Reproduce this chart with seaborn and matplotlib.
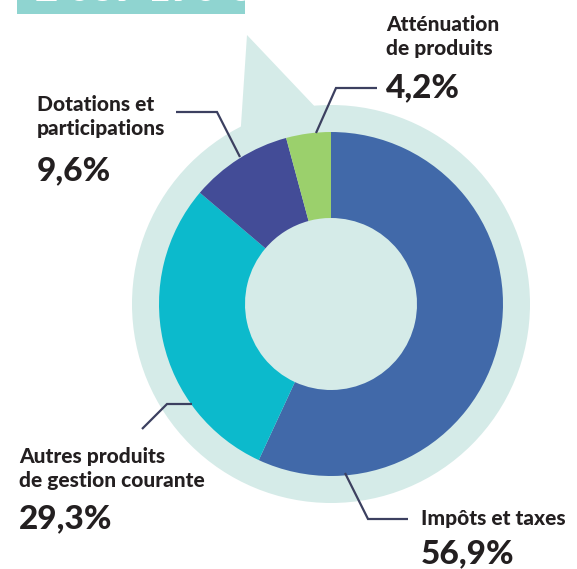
import matplotlib
matplotlib.use("Agg")
import matplotlib.pyplot as plt
import seaborn as sns
from matplotlib.patches import Circle, Polygon, Rectangle

sns.set_style("white")
plt.rcParams['font.family'] = ['Lato', 'DejaVu Sans']

# data, clockwise from the top
categories = ["Impôts et taxes", "Autres produits\nde gestion courante",
              "Dotations et\nparticipations", "Atténuation\nde produits"]
shares = [56.9, 29.3, 9.6, 4.2]
pct_labels = ["56,9%", "29,3%", "9,6%", "4,2%"]
total_label = "2 039 190 €"

colors = sns.color_palette(["#4169a9", "#0cbacc", "#434c97", "#9bd06c"])
light = "#d5ebe8"
ink = "#231f20"
line_col = "#3c4060"

W, H = 577, 569
fig = plt.figure(figsize=(W / 100, H / 100), dpi=100)
ax = fig.add_axes([0, 0, 1, 1])

def py(y):
    # pixel row -> data y
    return H - y

cx, cy = 331, py(304)

# header box, cut by the top edge (as in the source layout)
ax.add_patch(Rectangle((17, py(14)), 228, 30, color="#8fd4d0", lw=0, clip_on=True))
ax.text(35, py(1), total_label, color="white", fontsize=29, fontweight="black",
        ha="left", va="baseline", clip_on=True)

# light background disc + speech-bubble pointer
ax.add_patch(Polygon([(247, py(35)), (240, py(140)), (320, py(112))],
                     closed=True, color=light, lw=0))
ax.add_patch(Circle((cx, cy), 199, color=light, lw=0))

ax.pie(shares, colors=colors, startangle=90, counterclock=False,
       radius=172, center=(cx, cy),
       wedgeprops=dict(width=86, edgecolor="none"))

# leader lines (pixel coords)
leaders = [
    [(345, 473), (368, 519), (408, 519)],
    [(142, 429), (167, 404), (192, 404)],
    [(176, 112), (217, 112), (240, 157)],
    [(377, 88), (336, 88), (316, 133)],
]
for pts in leaders:
    ax.plot([p[0] for p in pts], [py(p[1]) for p in pts], color=line_col,
            lw=1.6, solid_capstyle="butt", solid_joinstyle="miter")

# label anchors: (left x, baseline of last label line, baseline of percent)
anchors = [(421, 525, 563), (19, 487, 528), (37, 135, 180), (386, 55, 97)]
for name, pct, (x, yl, yp) in zip(categories, pct_labels, anchors):
    ax.text(x, py(yl), name, fontsize=15, fontweight="black", color=ink,
            ha="left", va="baseline", linespacing=1.3)
    ax.text(x, py(yp), pct, fontsize=24, fontweight="black", color=ink,
            ha="left", va="baseline")

ax.set_xlim(0, W)
ax.set_ylim(0, H)
ax.set_aspect("auto")
ax.set_axis_off()

fig.savefig("out.png", dpi=100)
